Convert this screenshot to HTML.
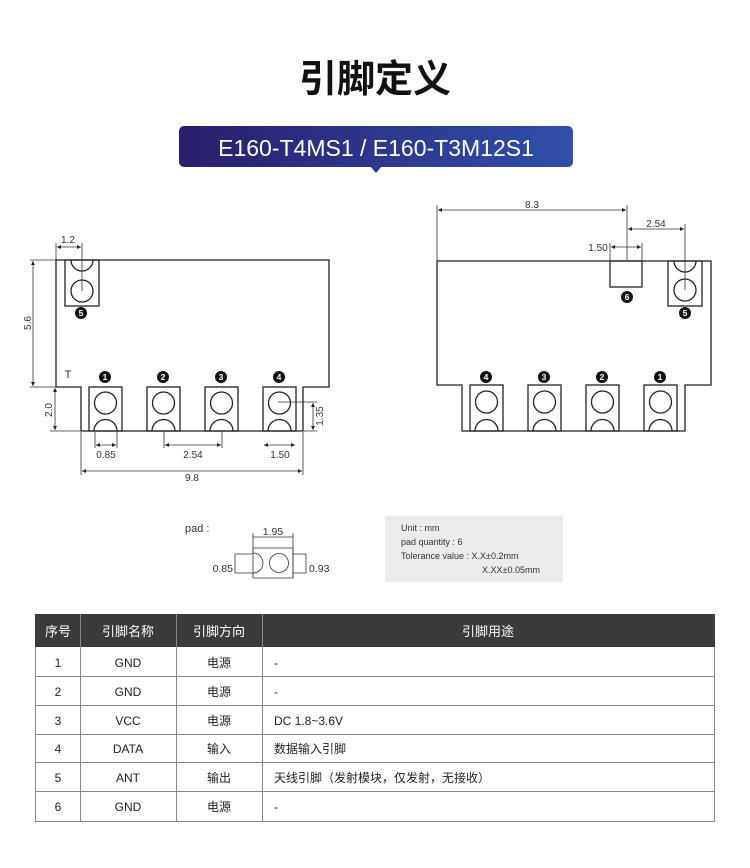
<!DOCTYPE html>
<html><head><meta charset="utf-8"><style>
body{margin:0;background:#fff;width:750px;height:868px;overflow:hidden}
svg{display:block}
text{font-family:"Liberation Sans","Noto Sans CJK SC",sans-serif}
</style></head><body>
<svg width="750" height="868" viewBox="0 0 750 868" xmlns="http://www.w3.org/2000/svg">
<defs>
<linearGradient id="g" x1="0" x2="1"><stop offset="0" stop-color="#2a1d6c"/><stop offset="1" stop-color="#3050ab"/></linearGradient>
<marker id="a" viewBox="0 0 6 6" refX="6" refY="3" markerWidth="5" markerHeight="5" orient="auto-start-reverse"><path d="M0,0L6,3L0,6z" fill="#222"/></marker>
</defs>
<text x="375" y="92" text-anchor="middle" font-size="38" font-weight="bold" fill="#111" font-family="'Noto Sans CJK SC',sans-serif">引脚定义</text>
<rect x="179" y="126" width="394" height="41" rx="5" fill="url(#g)"/>
<path d="M370,166L376,173L382,166z" fill="#2d3c92"/>
<text x="376" y="156" text-anchor="middle" font-size="23" fill="#fff">E160-T4MS1 / E160-T3M12S1</text>

<g fill="none" stroke="#222" stroke-width="1.3">
<!-- left board -->
<path d="M56,260H329V387H303V431H81V387H56Z" fill="#fff"/>
<rect x="65" y="260" width="34" height="46"/><path d="M71,260A11,11 0 0 0 93,260"/><circle cx="82" cy="291" r="11"/>
<g id="pl">
<rect x="89" y="387" width="33" height="44"/><circle cx="105.5" cy="403" r="11"/><path d="M94,431A11.5,11.5 0 0 1 117,431"/>
</g>
<use href="#pl" x="58"/><use href="#pl" x="116"/><use href="#pl" x="174"/>
<!-- right board -->
<path d="M437,261H711V385H685V431H462V385H437Z" fill="#fff"/>
<rect x="610" y="261" width="32" height="26"/>
<rect x="668" y="261" width="34" height="45"/><path d="M674,261A11,11 0 0 0 696,261"/><circle cx="685" cy="290" r="11"/>
<g id="pr">
<rect x="470" y="385" width="33" height="46"/><circle cx="486.5" cy="402" r="11"/><path d="M475,431A11.5,11.5 0 0 1 498,431"/>
</g>
<use href="#pr" x="58"/><use href="#pr" x="116"/><use href="#pr" x="174"/>
</g>
<g stroke="#333" stroke-width="0.8" fill="none">
<!-- left dims -->
<path d="M56,243V260M82,243V291M30,260H56M30,387H56M50,431H81M278,402H317M303,431H317M95,432V448M117,432V448M164,432V448M222,432V448M81,432V475M303,432V475"/>
<path d="M57,247H81" marker-start="url(#a)" marker-end="url(#a)"/>
<path d="M33,261V386" marker-start="url(#a)" marker-end="url(#a)"/>
<path d="M55,388V430" marker-start="url(#a)" marker-end="url(#a)"/>
<path d="M313,403V430" marker-start="url(#a)" marker-end="url(#a)"/>
<path d="M96,445H116" marker-start="url(#a)" marker-end="url(#a)"/>
<path d="M165,445H221" marker-start="url(#a)" marker-end="url(#a)"/>
<path d="M264,445H295" marker-start="url(#a)" marker-end="url(#a)"/>
<path d="M82,471H302" marker-start="url(#a)" marker-end="url(#a)"/>
<!-- right dims -->
<path d="M437,205V261M627,205V261M685,224V290M610,243V261M642,243V261"/>
<path d="M438,210H626" marker-start="url(#a)" marker-end="url(#a)"/>
<path d="M628,229H684" marker-start="url(#a)" marker-end="url(#a)"/>
<path d="M611,247H641" marker-start="url(#a)" marker-end="url(#a)"/>
</g>
<g font-size="10" fill="#333" text-anchor="middle">
<text x="68" y="243">1.2</text>
<text x="31" y="323" transform="rotate(-90 31 323)">5.6</text>
<text x="52" y="410" transform="rotate(-90 52 410)">2.0</text>
<text x="323" y="416" transform="rotate(-90 323 416)">1.35</text>
<text x="106" y="458">0.85</text><text x="193" y="458">2.54</text><text x="280" y="458">1.50</text>
<text x="192" y="481">9.8</text>
<text x="532" y="208">8.3</text><text x="656" y="227">2.54</text><text x="598" y="251">1.50</text>
<text x="68" y="378" font-size="11">T</text>
</g>
<g fill="#111"><circle cx="105" cy="377" r="6"/><circle cx="163" cy="377" r="6"/><circle cx="221" cy="377" r="6"/><circle cx="279" cy="377" r="6"/><circle cx="81" cy="313" r="6"/>
<circle cx="486" cy="377" r="6"/><circle cx="544" cy="377" r="6"/><circle cx="602" cy="377" r="6"/><circle cx="660" cy="377" r="6"/><circle cx="627" cy="297" r="6"/><circle cx="685" cy="313" r="6"/></g>
<g fill="#fff" font-size="8.5" font-weight="bold" text-anchor="middle">
<text x="105" y="380">1</text><text x="163" y="380">2</text><text x="221" y="380">3</text><text x="279" y="380">4</text><text x="81" y="316">5</text>
<text x="486" y="380">4</text><text x="544" y="380">3</text><text x="602" y="380">2</text><text x="660" y="380">1</text><text x="627" y="300">6</text><text x="685" y="316">5</text>
</g>
<!-- pad -->
<text x="185" y="532" font-size="11" fill="#333">pad :</text>
<g stroke="#333" stroke-width="0.8" fill="none">
<path d="M253,533V578M293,533V578M253,537H293"/>
<path d="M253,548H293V578H253M253,548V553A10,10 0 0 1 253,573V578"/>
<circle cx="279" cy="563" r="9.5"/>
<path d="M235,554H253M235,573H253M235,554V573M293,554H306M293,573H306M306,554V573"/>
</g>
<text x="273" y="535" font-size="10.5" fill="#333" text-anchor="middle">1.95</text>
<text x="233" y="572" font-size="10.5" fill="#333" text-anchor="end">0.85</text>
<text x="309" y="572" font-size="10.5" fill="#333">0.93</text>
<rect x="385" y="516" width="178" height="66" fill="#ebebeb"/>
<g font-size="9" fill="#333"><text x="401" y="531">Unit : mm</text><text x="401" y="545">pad quantity : 6</text><text x="401" y="559">Tolerance value : X.X±0.2mm</text><text x="482" y="573">X.XX±0.05mm</text></g>
<!-- table -->
<rect x="35" y="614" width="680" height="33" fill="#3b3b3b"/>
<g font-size="13" fill="#fff" text-anchor="middle" font-family="'Noto Sans CJK SC',sans-serif">
<text x="58" y="636">序号</text><text x="128" y="636">引脚名称</text><text x="219" y="636">引脚方向</text><text x="488" y="636">引脚用途</text></g>
<g stroke="#888" stroke-width="1" fill="none">
<path d="M35.5,647V822M80.5,614V822M176.5,614V822M262.5,614V822M714.5,647V822"/>
<path d="M35,676.5H715M35,705.5H715M35,734.5H715M35,762.5H715M35,791.5H715M35,821.5H715"/>
</g>
<g font-size="12" fill="#222" font-family="'Liberation Sans','Noto Sans CJK SC',sans-serif">
<g text-anchor="middle">
<text x="58" y="667">1</text><text x="128" y="667">GND</text><text x="219" y="667">电源</text>
<text x="58" y="696">2</text><text x="128" y="696">GND</text><text x="219" y="696">电源</text>
<text x="58" y="725">3</text><text x="128" y="725">VCC</text><text x="219" y="725">电源</text>
<text x="58" y="753">4</text><text x="128" y="753">DATA</text><text x="219" y="753">输入</text>
<text x="58" y="782">5</text><text x="128" y="782">ANT</text><text x="219" y="782">输出</text>
<text x="58" y="811">6</text><text x="128" y="811">GND</text><text x="219" y="811">电源</text>
</g>
<text x="274" y="667">-</text><text x="274" y="696">-</text><text x="274" y="725">DC 1.8~3.6V</text>
<text x="274" y="753">数据输入引脚</text><text x="274" y="782">天线引脚（发射模块，仅发射，无接收）</text><text x="274" y="811">-</text>
</g>
</svg>
</body></html>
